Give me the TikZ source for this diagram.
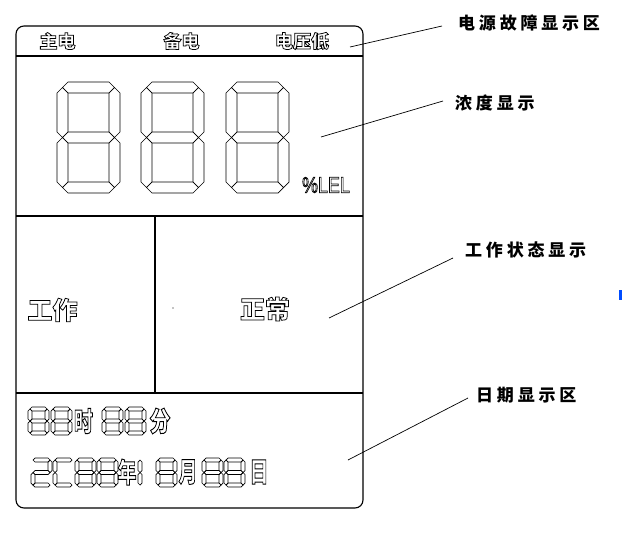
\documentclass[tikz,border=0pt]{standalone}
\usepackage{fontspec}
\setmainfont{Liberation Sans}
\newfontfamily\cjk{Noto Sans CJK SC}
\newcommand\hollow[1]{\special{pdf:literal direct 1 Tr 0.75 w}#1\special{pdf:literal direct 0 Tr}}
\newcommand\lsp{\kern3.8pt}
% seven segment polygons
\def\zsega{\draw[segsty] (\sq,\sq) -- (\st,0) -- ({\sW-\st},0) -- ({\sW-\sq},\sq) -- ({\sW-\st},\st) -- (\st,\st) -- cycle;}
\def\zsegb{\draw[segsty] ({\sW-\sq},\sq) -- (\sW,\st) -- (\sW,{\sh-\sq}) -- ({\sW-\sq},\sh) -- ({\sW-\st},{\sh-\sq}) -- ({\sW-\st},\st) -- cycle;}
\def\zsegc{\draw[segsty] ({\sW-\sq},\sh) -- (\sW,{\sh+\sq}) -- (\sW,{\sH-\st}) -- ({\sW-\sq},{\sH-\sq}) -- ({\sW-\st},{\sH-\st}) -- ({\sW-\st},{\sh+\sq}) -- cycle;}
\def\zsegd{\draw[segsty] (\sq,{\sH-\sq}) -- (\st,{\sH-\st}) -- ({\sW-\st},{\sH-\st}) -- ({\sW-\sq},{\sH-\sq}) -- ({\sW-\st},\sH) -- (\st,\sH) -- cycle;}
\def\zsege{\draw[segsty] (\sq,\sh) -- (\st,{\sh+\sq}) -- (\st,{\sH-\st}) -- (\sq,{\sH-\sq}) -- (0,{\sH-\st}) -- (0,{\sh+\sq}) -- cycle;}
\def\zsegf{\draw[segsty] (\sq,\sq) -- (\st,\st) -- (\st,{\sh-\sq}) -- (\sq,\sh) -- (0,{\sh-\sq}) -- (0,\st) -- cycle;}
\def\zsegg{\draw[segsty] (\sq,\sh) -- (\st,{\sh-\sq}) -- ({\sW-\st},{\sh-\sq}) -- ({\sW-\sq},\sh) -- ({\sW-\st},{\sh+\sq}) -- (\st,{\sh+\sq}) -- cycle;}
\newcommand\sevseg[6]{%
  \begin{scope}[shift={(#1,#2)}]
    \pgfmathsetmacro\sW{#3}\pgfmathsetmacro\sH{#4}\pgfmathsetmacro\st{#5}%
    \pgfmathsetmacro\sh{\sH/2}\pgfmathsetmacro\sq{\st/2}%
    \foreach \s in {#6}{\csname zseg\s\endcsname}%
  \end{scope}}
\begin{document}
\begin{tikzpicture}[x=1pt,y=-1pt,
  panel/.style={line width=1.1pt,black},
  segsty/.style={line width=0.7pt,black,line join=miter},
  leader/.style={line width=0.7pt,black},
  callout/.style={anchor=west,inner sep=0pt,font=\cjk\bfseries\fontsize{17}{17}\selectfont},
  hol/.style={inner sep=0pt,font=\cjk\bfseries\fontsize{18}{18}\selectfont},
  bighol/.style={inner sep=0pt,font=\cjk\bfseries\fontsize{25}{25}\selectfont},
  smallhol/.style={inner sep=0pt,font=\cjk\bfseries\fontsize{21}{21}\selectfont}]
\useasboundingbox (0,0) rectangle (622,544);
\fill[white] (0,0) rectangle (622,544);
% panel
\draw[panel,rounded corners=8pt] (16,26) rectangle (363,508);
\draw[panel] (16,56) -- (363,56);
\draw[panel] (16,216) -- (363,216);
\draw[panel] (16,393) -- (363,393);
\draw[panel] (155,216) -- (155,393);
% power status
\node[hol] (zhu) at (57.5,41) {\hollow{主电}};
\node[hol] (bei) at (181.5,41) {\hollow{备电}};
\node[hol] (dy) at (302,41) {\hollow{电压低}};
% big digits
\sevseg{57}{82}{63}{111}{11}{a,b,c,d,e,f,g}
\sevseg{141}{82}{63}{111}{11}{a,b,c,d,e,f,g}
\sevseg{226}{82}{63}{111}{11}{a,b,c,d,e,f,g}
\node[inner sep=0pt,font=\fontsize{22.4}{22.4}\selectfont] (lel) at (326,185) {\scalebox{0.8}[1]{\hollow{\%LEL}}};
% work status
\node[bighol] (gz) at (52.5,310) {\hollow{工作}};
\node[bighol] (zc) at (265,309) {\hollow{正常}};
\fill (173,308) circle (0.6);
% date / time
\sevseg{28}{407}{21}{28}{4}{a,b,c,d,e,f,g}
\sevseg{51}{407}{21}{28}{4}{a,b,c,d,e,f,g}
\node[smallhol] (shi) at (83.5,421) {\scalebox{0.9}[1.3]{\hollow{时}}};
\sevseg{102}{407}{21}{28}{4}{a,b,c,d,e,f,g}
\sevseg{125}{407}{21}{28}{4}{a,b,c,d,e,f,g}
\node[smallhol] (fen) at (160,421) {\scalebox{1}[1.3]{\hollow{分}}};
\sevseg{31}{458}{21}{29}{4}{a,b,g,e,d}
\sevseg{53}{458}{21}{29}{4}{a,f,e,d}
\sevseg{75}{458}{21}{29}{4}{a,b,c,d,e,f,g}
\sevseg{97}{458}{21}{29}{4}{a,b,c,d,e,f,g}
\node[smallhol] (nian) at (127,472) {\scalebox{0.9}[1.3]{\hollow{年}}};
\sevseg{121}{458}{21}{29}{4}{b,c}
\sevseg{156}{458}{21}{29}{4}{a,b,c,d,e,f,g}
\node[smallhol] (yue) at (188,472) {\scalebox{0.9}[1.3]{\hollow{月}}};
\sevseg{202}{458}{21}{29}{4}{a,b,c,d,e,f,g}
\sevseg{224}{458}{21}{29}{4}{a,b,c,d,e,f,g}
\node[smallhol] (ri) at (259,472) {\scalebox{0.9}[1.3]{\hollow{日}}};
% callouts
\node[callout] (l1) at (458,23) {电\lsp{}源\lsp{}故\lsp{}障\lsp{}显\lsp{}示\lsp{}区};
\node[callout] (l2) at (455,103) {浓\lsp{}度\lsp{}显\lsp{}示};
\node[callout] (l3) at (465,250) {工\lsp{}作\lsp{}状\lsp{}态\lsp{}显\lsp{}示};
\node[callout] (l4) at (476,395) {日\lsp{}期\lsp{}显\lsp{}示\lsp{}区};
\coordinate (p1) at (350,47);  \coordinate (q1) at (442,26);
\coordinate (p2) at (321,137); \coordinate (q2) at (443,101);
\coordinate (p3) at (329,318); \coordinate (q3) at (453,258);
\coordinate (p4) at (348,460); \coordinate (q4) at (468,398);
\draw[leader] (p1) -- (q1);
\draw[leader] (p2) -- (q2);
\draw[leader] (p3) -- (q3);
\draw[leader] (p4) -- (q4);
% stray mark at right edge
\fill[blue!70!cyan] (619,290) rectangle (622,300);
\end{tikzpicture}
\end{document}
